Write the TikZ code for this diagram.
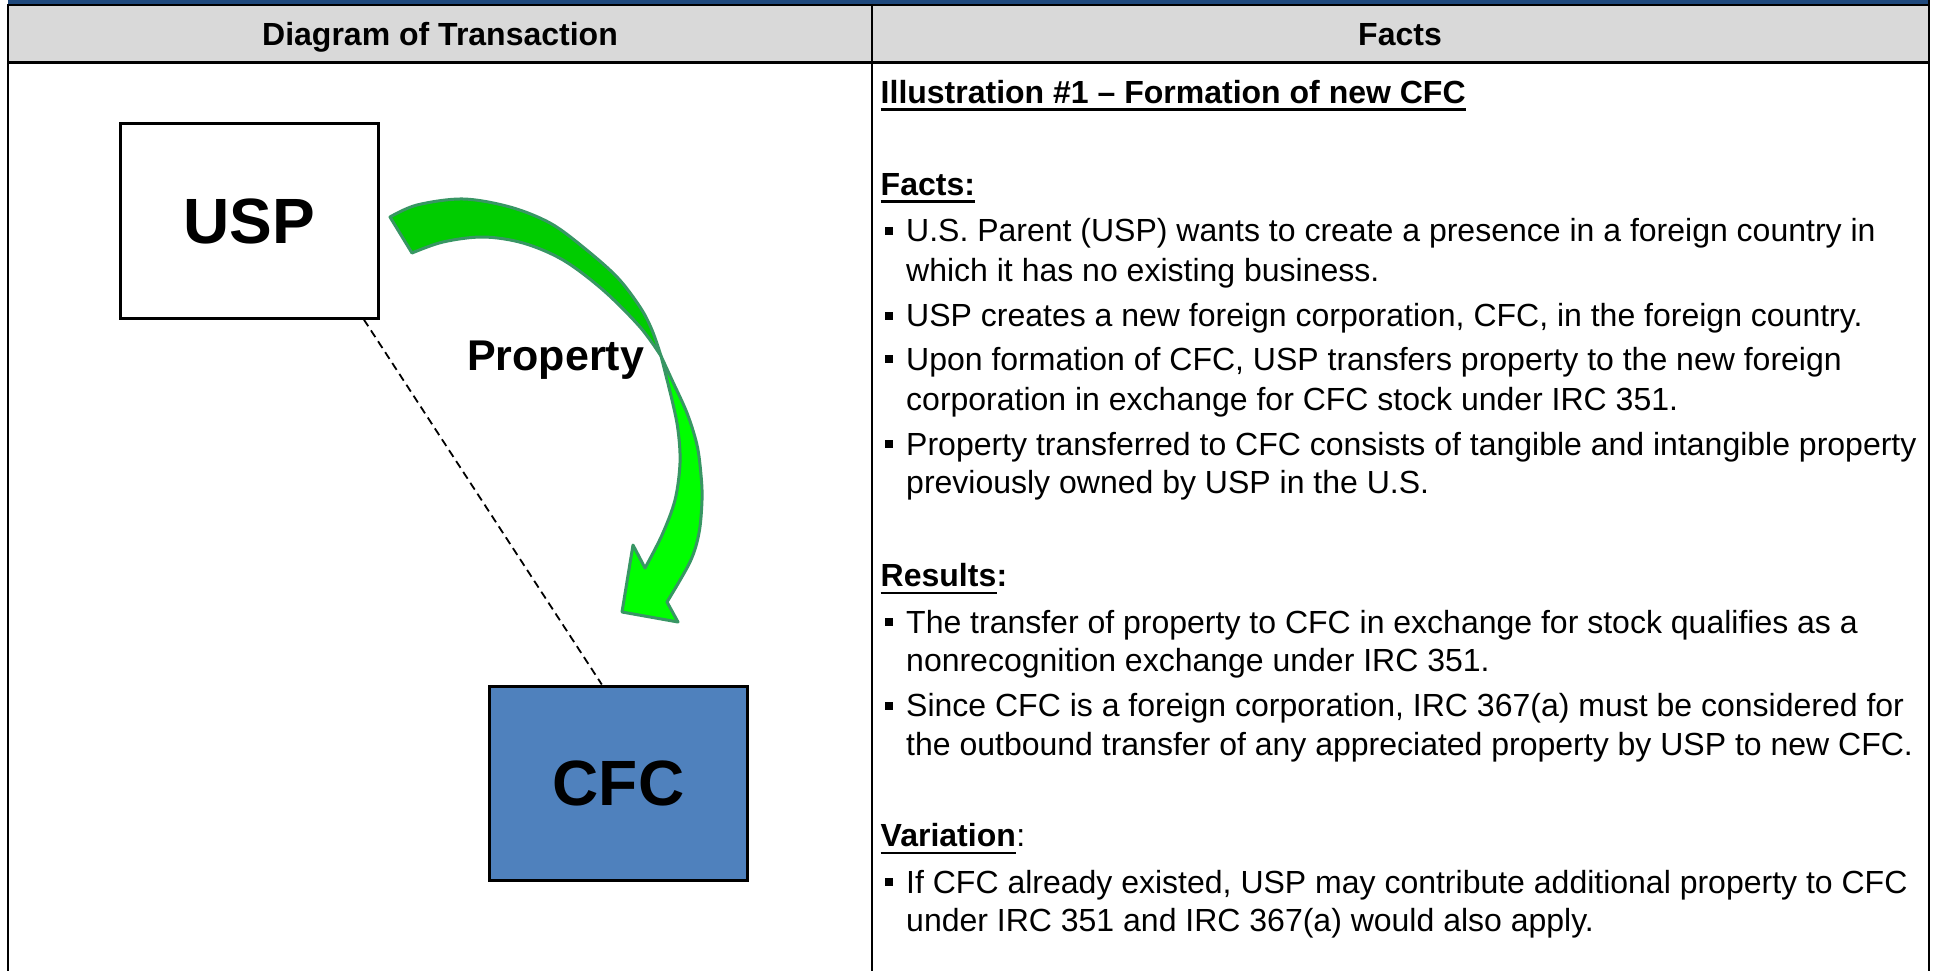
\documentclass[tikz,border=0pt]{standalone}
\usepackage{fontspec}
\setmainfont{Liberation Sans}
\usetikzlibrary{calc}
\definecolor{bandblue}{RGB}{31,73,125}
\definecolor{hdrgray}{RGB}{217,217,217}
\definecolor{cfcblue}{RGB}{79,129,189}
\definecolor{arrdark}{RGB}{0,204,0}
\definecolor{arrlight}{RGB}{0,255,0}
\definecolor{arredge}{RGB}{56,150,100}
\begin{document}
\begin{tikzpicture}[x=1pt,y=-1pt,
  ent/.style={draw=black,line width=3pt,minimum width=258pt,minimum height=194pt,inner sep=0pt,font=\fontsize{64}{70}\selectfont\bfseries},
  hdr/.style={font=\fontsize{32}{38}\selectfont\bfseries,inner sep=0pt,anchor=base},
  txt/.style={font=\fontsize{32}{38}\selectfont,inner sep=0pt,anchor=base west},
  btxt/.style={font=\fontsize{32}{38}\selectfont\bfseries,inner sep=0pt,anchor=base west},
  bul/.style={fill=black,minimum size=8pt,inner sep=0pt},
  uline/.style={line width=2.7pt},
  rulel/.style={line width=2.2pt},
  dashline/.style={line width=1.8pt,dash pattern=on 8pt off 5pt},
  arrpart/.style={draw=arredge,line width=3pt,line join=round}]
\useasboundingbox (0,0) rectangle (1937,971);
% table frame
\fill[bandblue] (7.7,0) rectangle (1928.7,4);
\fill[hdrgray] (7.7,5) rectangle (1928.7,62.5);
\draw[rulel] (7.7,5) -- (1928.7,5);
\draw[line width=3pt] (7.7,62.5) -- (1928.7,62.5);
\draw[rulel] (7.7,4) -- (7.7,971);
\draw[rulel] (872,4) -- (872,971);
\draw[rulel] (1928.7,0) -- (1928.7,971);
% headers
\node[hdr] (hleft) at (440,45.5) {Diagram of Transaction};
\node[hdr] (hright) at (1400,45.5) {Facts};
% entities
\node[ent] (usp) at (249,221) {USP};
\node[ent,fill=cfcblue] (cfc) at (618.5,783) {CFC};
\coordinate (d1) at ($(usp.south west)!0.94!(usp.south east)$);
\coordinate (d2) at ($(cfc.north west)!0.436!(cfc.north east)$);
\draw[dashline] (d1) -- (d2);
% curved arrow
\filldraw[arrpart,fill=arrdark] plot[smooth,tension=0.55] coordinates {(390,217) (417,205) (463,199) (510,207) (550,223) (583,247) (617,277) (640,307) (652,330) (661,356)} -- plot[smooth,tension=0.55] coordinates {(661,356) (640,327) (603,290) (563,260) (523,243) (483,237) (443,242) (412,253)} -- cycle;
\filldraw[arrpart,fill=arrlight] plot[smooth,tension=0.55] coordinates {(661,356) (672,380) (687,413) (697,445) (701,475) (702,500) (699,533) (690,562) (667,602)} -- (678,622) -- (622,612) -- (633,545) -- plot[smooth,tension=0.55] coordinates {(645,568) (662,535) (675,500) (680,463) (678,430) (672,400) (661,356)} -- cycle;
\node[font=\fontsize{43}{50}\selectfont\bfseries,inner sep=0pt,anchor=base west] (prop) at (467,370) {Property};
% right column
\node[btxt] (h1) at (880.5,103.3) {Illustration \#1 – Formation of new CFC};
\draw[uline] ([yshift=-6.3pt]h1.base west) -- ([yshift=-6.3pt]h1.base east);
\node[btxt] (h2) at (880.5,195) {Facts:};
\draw[uline] ([yshift=-6.3pt]h2.base west) -- ([yshift=-6.3pt]h2.base east);
\node[txt] (l1) at (906,241.7) {U.S. Parent (USP) wants to create a presence in a foreign country in};
\node[txt] (l2) at (906,281.7) {which it has no existing business.};
\node[txt] (l3) at (906,326.7) {USP creates a new foreign corporation, CFC, in the foreign country.};
\node[txt] (l4) at (906,370) {Upon formation of CFC, USP transfers property to the new foreign};
\node[txt] (l5) at (906,410) {corporation in exchange for CFC stock under IRC 351.};
\node[txt] (l6) at (906,455) {Property transferred to CFC consists of tangible and intangible property};
\node[txt] (l7) at (906,493.3) {previously owned by USP in the U.S.};
\node[btxt] (h3) at (880.5,586.7) {Results};
\node[btxt] (h3c) at (h3.base east) {:};
\draw[uline] ([yshift=-6.3pt]h3.base west) -- ([yshift=-6.3pt]h3.base east);
\node[txt] (l8) at (906,633.3) {The transfer of property to CFC in exchange for stock qualifies as a};
\node[txt] (l9) at (906,671.7) {nonrecognition exchange under IRC 351.};
\node[txt] (l10) at (906,716.7) {Since CFC is a foreign corporation, IRC 367(a) must be considered for};
\node[txt] (l11) at (906,755) {the outbound transfer of any appreciated property by USP to new CFC.};
\node[btxt] (h4) at (880.5,846.7) {Variation};
\node[txt] (h4c) at (h4.base east) {:};
\draw[uline] ([yshift=-6.3pt]h4.base west) -- ([yshift=-6.3pt]h4.base east);
\node[txt] (l12) at (906,893.3) {If CFC already existed, USP may contribute additional property to CFC};
\node[txt] (l13) at (906,931.7) {under IRC 351 and IRC 367(a) would also apply.};
% bullets
\node[bul] (b1) at (889,230.8) {};
\node[bul] (b2) at (889,315.8) {};
\node[bul] (b3) at (889,359.1) {};
\node[bul] (b4) at (889,444.1) {};
\node[bul] (b5) at (889,622.4) {};
\node[bul] (b6) at (889,705.8) {};
\node[bul] (b7) at (889,882.4) {};
\end{tikzpicture}
\end{document}
